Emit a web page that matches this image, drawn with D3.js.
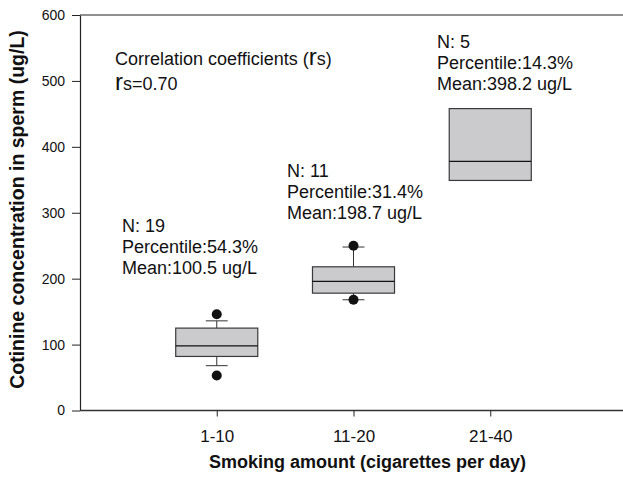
<!DOCTYPE html>
<html>
<head>
<meta charset="utf-8">
<script src="https://cdn.jsdelivr.net/npm/d3@7"></script>
<style>
  html, body { margin: 0; padding: 0; background: #fff; }
  svg { display: block; font-family: "Liberation Sans", Arial, Helvetica, sans-serif; }
</style>
</head>
<body>
<svg id="chart" width="623" height="479"></svg>
<script>
// ---- data ----
const categories   = ["1-10", "11-20", "21-40"];
const q1           = [82, 178, 349];
const medians      = [98, 196, 378];
const q3           = [125, 218, 458];
const whiskerLow   = [68, 168, null];
const whiskerHigh  = [136, 248, null];
const outlierLow   = [53, 168, null];
const outlierHigh  = [146, 250, null];
const nValues      = [19, 11, 5];
const percentiles  = ["54.3%", "31.4%", "14.3%"];
const means        = ["100.5", "198.7", "398.2"];
const yTicks       = [0, 100, 200, 300, 400, 500, 600];
const rsValue      = "0.70";

// ---- layout ----
const W = 623, H = 479;
const mLeft = 80, mTop = 15, mBottom = 410.5, mRight = 627;
const svg = d3.select("#chart");

const x = d3.scaleLinear().domain([0, categories.length + 1]).range([mLeft, mRight]);
const y = d3.scaleLinear().domain([0, 600]).range([mBottom, mTop]);
const boxW = 0.6, capW = 0.16;

// top frame line
svg.append("line")
  .attr("x1", mLeft).attr("x2", W).attr("y1", y(600)).attr("y2", y(600))
  .attr("stroke", "#222").attr("stroke-width", 1.2);

// y axis
const gy = svg.append("g").attr("transform", `translate(${mLeft},0)`)
  .call(d3.axisLeft(y).tickValues(yTicks).tickSize(8).tickPadding(7).tickSizeOuter(0));
gy.select(".domain").attr("stroke", "#222").attr("stroke-width", 1.2);
gy.selectAll(".tick line").attr("stroke", "#222");
gy.selectAll("text").attr("font-size", 14).attr("fill", "#111")
  .attr("font-family", "'Liberation Sans', Arial, sans-serif");

// x axis
const gx = svg.append("g").attr("transform", `translate(0,${mBottom})`)
  .call(d3.axisBottom(x).tickValues(categories.map((d, i) => i + 1))
    .tickFormat((d, i) => categories[i]).tickSize(6).tickSizeOuter(0));
gx.select(".domain").attr("stroke", "#333").attr("stroke-width", 1.6)
  .attr("d", `M${mLeft},0H${W}`);
gx.selectAll(".tick line").attr("stroke", "#222");
gx.selectAll("text").attr("font-size", 17).attr("fill", "#111")
  .attr("y", 31).attr("dy", 0)
  .attr("font-family", "'Liberation Sans', Arial, sans-serif");

// boxes
const groups = categories.map((c, i) => ({
  i, c, q1: q1[i], med: medians[i], q3: q3[i],
  wl: whiskerLow[i], wh: whiskerHigh[i], ol: outlierLow[i], oh: outlierHigh[i]
}));

const g = svg.append("g");
groups.forEach(d => {
  const cx = x(d.i + 1);
  const hw = x(boxW / 2) - x(0);
  const cw = x(capW / 2) - x(0);
  if (d.wh != null) {
    g.append("line").attr("x1", cx).attr("x2", cx).attr("y1", y(d.q3)).attr("y2", y(d.wh))
      .attr("stroke", "#333").attr("stroke-width", 1);
    g.append("line").attr("x1", cx - cw).attr("x2", cx + cw).attr("y1", y(d.wh)).attr("y2", y(d.wh))
      .attr("stroke", "#333").attr("stroke-width", 1);
  }
  if (d.wl != null) {
    g.append("line").attr("x1", cx).attr("x2", cx).attr("y1", y(d.q1)).attr("y2", y(d.wl))
      .attr("stroke", "#333").attr("stroke-width", 1);
    g.append("line").attr("x1", cx - cw).attr("x2", cx + cw).attr("y1", y(d.wl)).attr("y2", y(d.wl))
      .attr("stroke", "#333").attr("stroke-width", 1);
  }
  g.append("rect").attr("x", cx - hw).attr("width", 2 * hw)
    .attr("y", y(d.q3)).attr("height", y(d.q1) - y(d.q3))
    .attr("fill", "#cbcbcd").attr("stroke", "#3a3a3a").attr("stroke-width", 1.2);
  g.append("line").attr("x1", cx - hw).attr("x2", cx + hw).attr("y1", y(d.med)).attr("y2", y(d.med))
    .attr("stroke", "#111").attr("stroke-width", 1.2);
  [d.ol, d.oh].filter(v => v != null).forEach(v => {
    g.append("circle").attr("cx", cx).attr("cy", y(v)).attr("r", 5).attr("fill", "#111");
  });
});

// annotations (N / Percentile / Mean)
const annX = [122, 287, 437];
const annY = [232, 177, 48];
const lineGap = 21;
categories.forEach((c, i) => {
  const t = svg.append("text").attr("font-size", 18).attr("fill", "#111");
  const lines = [`N: ${nValues[i]}`, `Percentile:${percentiles[i]}`, `Mean:${means[i]} ug/L`];
  lines.forEach((s, k) => {
    t.append("tspan").attr("x", annX[i]).attr("y", annY[i] + k * lineGap).text(s);
  });
});

// correlation text
const corr = svg.append("text").attr("x", 115).attr("y", 65).attr("font-size", 18).attr("fill", "#111");
corr.append("tspan").text("Correlation coefficients (");
corr.append("tspan").attr("font-size", 24).text("r");
corr.append("tspan").text("s)");
const rs = svg.append("text").attr("x", 115).attr("y", 90).attr("font-size", 18).attr("fill", "#111");
rs.append("tspan").attr("font-size", 24).text("r");
rs.append("tspan").text(`s=${rsValue}`);

// axis titles
svg.append("text").attr("x", (205 + 530) / 2).attr("y", 468)
  .attr("text-anchor", "middle").attr("font-size", 18).attr("font-weight", "bold").attr("fill", "#111")
  .text("Smoking amount (cigarettes per day)");
svg.append("text").attr("transform", `translate(24,${(29 + 390) / 2}) rotate(-90)`)
  .attr("text-anchor", "middle").attr("font-size", 19.5).attr("font-weight", "bold").attr("fill", "#111")
  .text("Cotinine concentration in sperm (ug/L)");
</script>
</body>
</html>
